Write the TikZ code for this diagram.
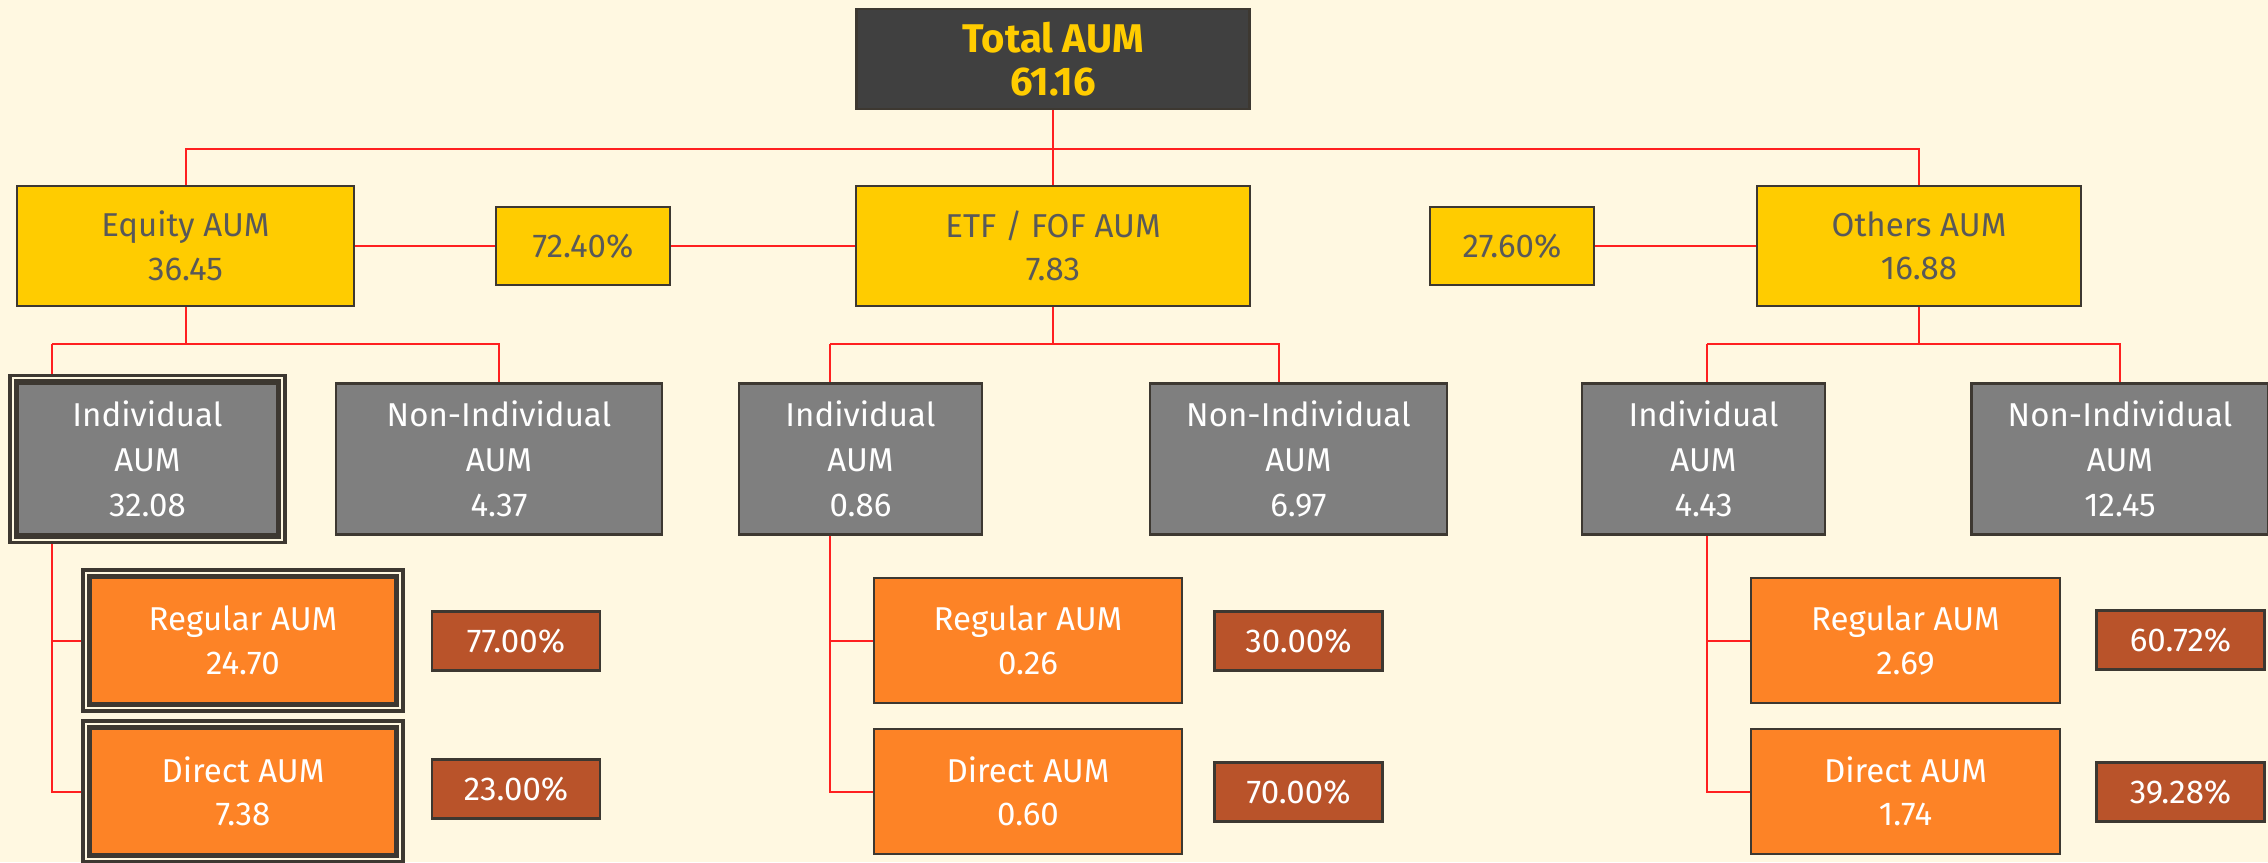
\documentclass[tikz,border=0pt]{standalone}
\usepackage{fontspec}
\setmainfont{Fira Sans}
\usepackage{tikz}
\usetikzlibrary{backgrounds,calc}

\definecolor{paper}{HTML}{FFF8E1}
\definecolor{slate}{HTML}{404040}
\definecolor{gold}{HTML}{FFCC00}
\definecolor{ink}{HTML}{595959}
\definecolor{steel}{HTML}{7F7F7F}
\definecolor{tangerine}{HTML}{FD8326}
\definecolor{rust}{HTML}{B9532A}
\definecolor{edge}{HTML}{3D3831}
\definecolor{wire}{HTML}{FF2020}

\tikzset{
  box/.style={draw=edge, line width=0.25mm, inner sep=0pt, align=center,
    font=\fontsize{9.4}{12.4}\selectfont},
  totalbox/.style={box, fill=slate, text=gold, minimum width=39.3mm, minimum height=10mm,
    font=\bfseries\fontsize{11.4}{12.4}\selectfont},
  fundbox/.style={box, fill=gold, text=ink, minimum height=12mm},
  sharebox/.style={box, fill=gold, text=ink, minimum height=7.8mm},
  holderbox/.style={box, fill=steel, text=white, minimum height=15.1mm,
    font=\fontsize{9.4}{12.8}\selectfont},
  planbox/.style={box, fill=tangerine, text=white, minimum height=12.5mm},
  pctbox/.style={box, fill=rust, text=white, minimum width=16.8mm, minimum height=5.9mm},
  link/.style={draw=wire, line width=0.2mm},
  frame/.style={draw=edge, double=paper, double distance=0.2mm, line width=0.35mm},
}

\begin{document}
\begin{tikzpicture}[x=0.1mm, y=-0.1mm]
\begin{pgfonlayer}{background}
\fill[paper] (0,0) rectangle (2268,862);
\end{pgfonlayer}
\useasboundingbox (0,0) rectangle (2268,862);

% top level
\node[totalbox] (total) at (1053,59) {Total AUM\\61.16};

\node[fundbox, minimum width=33.7mm] (equity) at (185.5,246) {Equity AUM\\36.45};
\node[sharebox, minimum width=17.4mm] (eqshare) at (583,246) {72.40\%};
\node[fundbox, minimum width=39.4mm] (etf) at (1053,246) {ETF / FOF AUM\\7.83};
\node[sharebox, minimum width=16.4mm] (othshare) at (1512,246) {27.60\%};
\node[fundbox, minimum width=32.4mm] (others) at (1919,246) {Others AUM\\16.88};

% investor split
\node[holderbox, minimum width=25.9mm] (eqind) at (147.5,459) {Individual\\AUM\\32.08};
\node[holderbox, minimum width=32.6mm] (eqnon) at (499,459) {Non-Individual\\AUM\\4.37};
\node[holderbox, minimum width=24.3mm] (etfind) at (860.5,459) {Individual\\AUM\\0.86};
\node[holderbox, minimum width=29.7mm] (etfnon) at (1298.5,459) {Non-Individual\\AUM\\6.97};
\node[holderbox, minimum width=24.3mm] (othind) at (1703.5,459) {Individual\\AUM\\4.43};
\node[holderbox, minimum width=29.7mm] (othnon) at (2120,459) {Non-Individual\\AUM\\12.45};

% plans
\node[planbox, minimum width=30.4mm] (eqreg) at (243,640.5) {Regular AUM\\24.70};
\node[planbox, minimum width=30.4mm] (eqdir) at (243,791.5) {Direct AUM\\7.38};
\node[pctbox] (eqregp) at (516,641) {77.00\%};
\node[pctbox] (eqdirp) at (516,789) {23.00\%};

\node[planbox, minimum width=30.8mm] (etfreg) at (1028,640.5) {Regular AUM\\0.26};
\node[planbox, minimum width=30.8mm] (etfdir) at (1028,791.5) {Direct AUM\\0.60};
\node[pctbox] (etfregp) at (1298.5,641) {30.00\%};
\node[pctbox] (etfdirp) at (1298.5,792) {70.00\%};

\node[planbox, minimum width=30.9mm] (othreg) at (1905.5,640.5) {Regular AUM\\2.69};
\node[planbox, minimum width=30.9mm] (othdir) at (1905.5,791.5) {Direct AUM\\1.74};
\node[pctbox] (othregp) at (2180.5,640) {60.72\%};
\node[pctbox] (othdirp) at (2180.5,792) {39.28\%};

% sketchy frames
\draw[frame] ([shift={(-4,-4)}]eqind.north west) rectangle ([shift={(4,4)}]eqind.south east);
\draw[frame] ([shift={(-4,-4)}]eqreg.north west) rectangle ([shift={(4,4)}]eqreg.south east);
\draw[frame] ([shift={(-4,-4)}]eqdir.north west) rectangle ([shift={(4,4)}]eqdir.south east);

\coordinate (eqspine) at (52,344);
\coordinate (etfspine) at (830,344);
\coordinate (othspine) at (1707,344);

\begin{scope}[on background layer]
\draw[link] (total.south) -- (etf.north);
\draw[link] (equity.north) -- ++(0,-36) -| (others.north);
\draw[link] (equity.east) -- (eqshare.west) (eqshare.east) -- (etf.west);
\draw[link] (othshare.east) -- (others.west);

\draw[link] (equity.south) -- (equity.south |- eqspine);
\draw[link] (eqspine) -| (eqnon.north);
\draw[link] (eqspine) |- (eqreg.west);
\draw[link] (eqspine) |- (eqdir.west);

\draw[link] (etf.south) -- (etf.south |- etfspine);
\draw[link] (etfspine) -| ([xshift=-2mm]etfnon.north);
\draw[link] (etfspine) |- (etfreg.west);
\draw[link] (etfspine) |- (etfdir.west);

\draw[link] (others.south) -- (others.south |- othspine);
\draw[link] (othspine) -| (othnon.north);
\draw[link] (othspine) |- (othreg.west);
\draw[link] (othspine) |- (othdir.west);
\end{scope}
\end{tikzpicture}
\end{document}
